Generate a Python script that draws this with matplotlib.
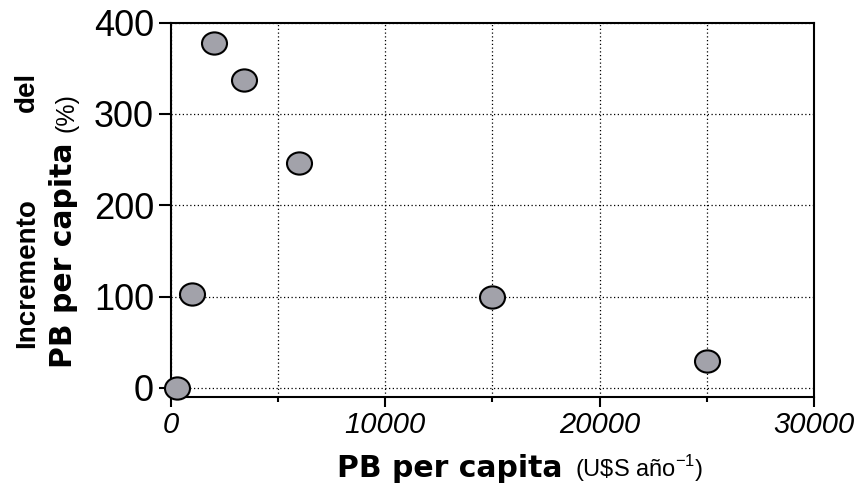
import numpy as np
import matplotlib
matplotlib.use("Agg")
import matplotlib.pyplot as plt
from matplotlib.path import Path
from matplotlib.ticker import MultipleLocator

plt.rcParams['font.family'] = ['Liberation Sans', 'DejaVu Sans']
plt.rcParams['mathtext.fontset'] = 'custom'
plt.rcParams['mathtext.rm'] = 'Liberation Sans'

# data
pb_per_capita = [300, 1000, 2000, 3400, 6000, 15000, 25000]
incremento = [0, 103, 378, 337, 246, 100, 29]

x_ticks = [0, 10000, 20000, 30000]
y_ticks = [0, 100, 200, 300, 400]

W, H = 863, 487
fig = plt.figure(figsize=(W / 100, H / 100), dpi=100)
ax = fig.add_axes([170.7 / W, 1 - 397 / H, (814 - 170.7) / W, (397 - 22.5) / H])

# slightly wide ellipse as marker
circ = Path.unit_circle()
ellipse = Path(circ.vertices * np.array([1.125, 1.0]), circ.codes)

ax.plot(pb_per_capita, incremento, linestyle='none', marker=ellipse,
        markersize=18, markerfacecolor='#a2a2aa', markeredgecolor='black',
        markeredgewidth=1.5, zorder=3, clip_on=False)

ax.set_xlim(0, 30000)
ax.set_ylim(-10, 400)
ax.set_xticks(x_ticks)
ax.set_xticklabels([str(t) for t in x_ticks], fontsize=21, style='italic')
ax.xaxis.set_minor_locator(MultipleLocator(5000))
ax.set_yticks(y_ticks)
ax.set_yticklabels([str(t) for t in y_ticks], fontsize=26)

ax.grid(True, which='both', axis='x', color='black', linestyle=(0, (1, 2)), linewidth=0.9)
ax.grid(True, which='major', axis='y', color='black', linestyle=(0, (1, 2)), linewidth=0.9)

for s in ax.spines.values():
    s.set_linewidth(1.5)
ax.tick_params(axis='x', which='major', length=7, width=1.5, pad=3)
ax.tick_params(axis='x', which='minor', length=3.5, width=1.5)
ax.tick_params(axis='y', which='major', length=9, width=1.5, pad=3)

def fx(px):
    return px / W

def fy(py):
    return 1 - py / H

bold_font = ['DejaVu Sans']

# x label
fig.text(fx(337), fy(477), 'PB per capita', fontsize=21.5, fontweight='bold',
         family=bold_font, ha='left', va='baseline')
fig.text(fx(575), fy(477), '(U\\$S año$^{-1}$)', fontsize=17,
         ha='left', va='baseline')

# y label, two lines
fig.text(fx(27), fy(348), 'Incremento', fontsize=20, fontweight='bold',
         rotation=90, ha='center', va='bottom')
fig.text(fx(27), fy(72), 'del', fontsize=20, fontweight='bold',
         rotation=90, ha='center', va='top')
fig.text(fx(64), fy(368), 'PB per capita', fontsize=21.5, fontweight='bold',
         family=bold_font, rotation=90, ha='center', va='bottom')
fig.text(fx(66), fy(132), '(%)', fontsize=18,
         rotation=90, ha='center', va='bottom')

fig.savefig('out.png', dpi=100)
